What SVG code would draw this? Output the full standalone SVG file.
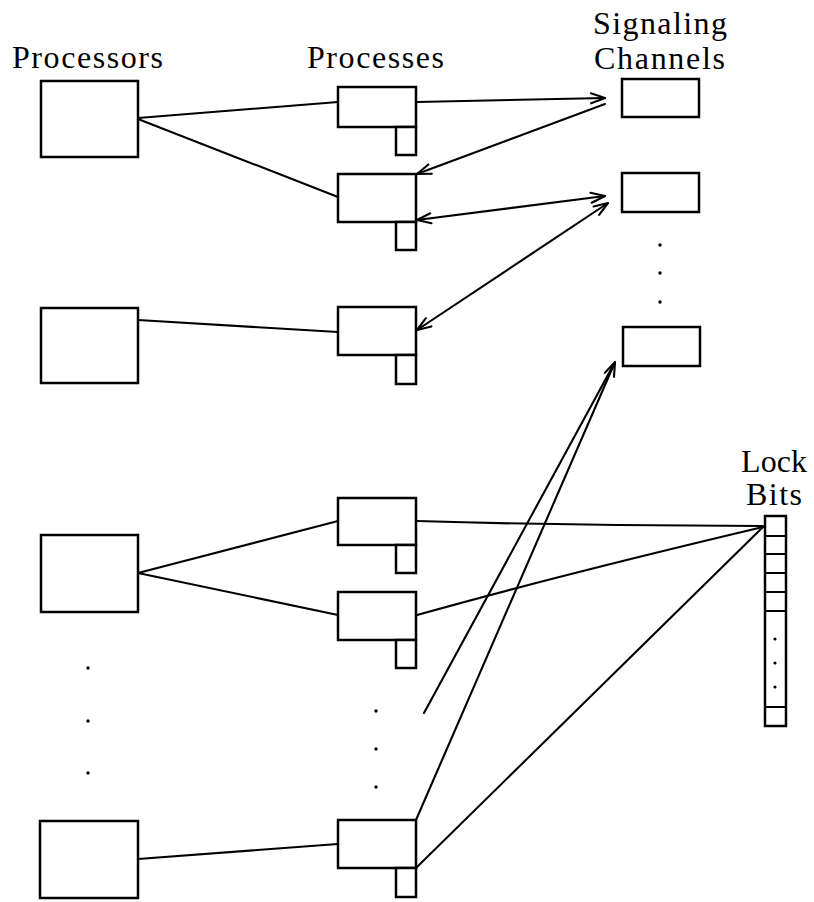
<svg xmlns="http://www.w3.org/2000/svg" width="814" height="902" viewBox="0 0 814 902">
  <style>
    .box { fill: #fff; stroke: #000; stroke-width: 2.5; }
    .wire { fill: none; stroke: #000; stroke-width: 2.1; stroke-linecap: round; }
    .lbl { font-family: "Liberation Serif", "Times New Roman", serif; font-size: 32px; fill: #000; }
    .dot { fill: #000; }
  </style>
  <defs>
    <marker id="arrow" markerUnits="userSpaceOnUse" markerWidth="20" markerHeight="20" viewBox="-16 -8 20 16" refX="0" refY="0" orient="auto-start-reverse">
      <path d="M -14 -5 L 0 0 L -14 5" fill="none" stroke="#000" stroke-width="2.1" stroke-linecap="round" stroke-linejoin="round"/>
    </marker>
  </defs>
  <rect width="814" height="902" fill="#fff"/>

  <!-- column headings -->
  <g id="headings">
    <text class="lbl" x="12" y="68" textLength="151" lengthAdjust="spacing">Processors</text>
    <text class="lbl" x="307" y="68" textLength="137" lengthAdjust="spacing">Processes</text>
    <text class="lbl" x="593" y="34" textLength="134" lengthAdjust="spacing">Signaling</text>
    <text class="lbl" x="594" y="69" textLength="131" lengthAdjust="spacing">Channels</text>
    <text class="lbl" x="741" y="472" textLength="66" lengthAdjust="spacing">Lock</text>
    <text class="lbl" x="746" y="505" textLength="56" lengthAdjust="spacing">Bits</text>
  </g>

  <!-- connectors -->
  <g id="connectors">
    <line class="wire" x1="138" y1="118" x2="338" y2="102"/>
    <line class="wire" x1="138" y1="119" x2="338" y2="197"/>
    <line class="wire" x1="138" y1="320" x2="338" y2="332"/>
    <line class="wire" x1="138" y1="573" x2="338" y2="521"/>
    <line class="wire" x1="138" y1="573" x2="338" y2="615"/>
    <line class="wire" x1="138" y1="859" x2="338" y2="844"/>

    <line class="wire" x1="417" y1="102" x2="605" y2="98" marker-end="url(#arrow)"/>
    <line class="wire" x1="605" y1="104" x2="417" y2="174" marker-end="url(#arrow)"/>
    <line class="wire" x1="417" y1="220" x2="605" y2="196" marker-start="url(#arrow)" marker-end="url(#arrow)"/>
    <line class="wire" x1="608" y1="203" x2="417" y2="330" marker-start="url(#arrow)" marker-end="url(#arrow)"/>

    <line class="wire" x1="424" y1="713" x2="615" y2="362"/>
    <line class="wire" x1="416" y1="820" x2="615" y2="362" marker-end="url(#arrow)"/>

    <path class="wire" d="M 417 521 Q 590 526 763 526"/>
    <path class="wire" d="M 417 615 Q 560 575 763 527"/>
    <line class="wire" x1="763" y1="527" x2="417" y2="867"/>
  </g>

  <!-- processors -->
  <g id="processor-1"><rect class="box" x="41" y="81" width="97" height="76"/></g>
  <g id="processor-2"><rect class="box" x="41" y="308" width="97" height="75"/></g>
  <g id="processor-3"><rect class="box" x="41" y="535" width="97" height="77"/></g>
  <g id="processor-n"><rect class="box" x="40" y="821" width="98" height="77"/></g>
  <g id="processor-ellipsis">
    <circle class="dot" cx="88" cy="668" r="1.7"/>
    <circle class="dot" cx="88" cy="721" r="1.7"/>
    <circle class="dot" cx="88" cy="773" r="1.7"/>
  </g>

  <!-- processes: body plus small tab underneath -->
  <g id="process-1"><rect class="box" x="338" y="87" width="78" height="40"/><rect class="box" x="396" y="127" width="20" height="28"/></g>
  <g id="process-2"><rect class="box" x="338" y="174" width="78" height="48"/><rect class="box" x="396" y="222" width="20" height="28"/></g>
  <g id="process-3"><rect class="box" x="338" y="307" width="78" height="48"/><rect class="box" x="396" y="355" width="20" height="29"/></g>
  <g id="process-4"><rect class="box" x="338" y="498" width="78" height="47"/><rect class="box" x="396" y="545" width="20" height="28"/></g>
  <g id="process-5"><rect class="box" x="338" y="592" width="78" height="48"/><rect class="box" x="396" y="640" width="20" height="28"/></g>
  <g id="process-n"><rect class="box" x="338" y="820" width="78" height="48"/><rect class="box" x="396" y="868" width="20" height="29"/></g>
  <g id="process-ellipsis">
    <circle class="dot" cx="376" cy="711" r="1.7"/>
    <circle class="dot" cx="376" cy="749" r="1.7"/>
    <circle class="dot" cx="376" cy="787" r="1.7"/>
  </g>

  <!-- signaling channels -->
  <g id="channel-1"><rect class="box" x="622" y="79" width="77" height="38"/></g>
  <g id="channel-2"><rect class="box" x="622" y="173" width="77" height="39"/></g>
  <g id="channel-n"><rect class="box" x="623" y="327" width="77" height="39"/></g>
  <g id="channel-ellipsis">
    <circle class="dot" cx="660" cy="245" r="1.7"/>
    <circle class="dot" cx="660" cy="273" r="1.7"/>
    <circle class="dot" cx="660" cy="302" r="1.7"/>
  </g>

  <!-- lock bit array -->
  <g id="lock-bits">
    <rect class="box" x="765" y="516" width="21" height="210"/>
    <g stroke="#000" stroke-width="2">
      <line x1="765" y1="536" x2="786" y2="536"/>
      <line x1="765" y1="554" x2="786" y2="554"/>
      <line x1="765" y1="573" x2="786" y2="573"/>
      <line x1="765" y1="592" x2="786" y2="592"/>
      <line x1="765" y1="611" x2="786" y2="611"/>
      <line x1="765" y1="707" x2="786" y2="707"/>
    </g>
    <circle class="dot" cx="775" cy="639" r="1.6"/>
    <circle class="dot" cx="775" cy="663" r="1.6"/>
    <circle class="dot" cx="775" cy="687" r="1.6"/>
  </g>
</svg>
